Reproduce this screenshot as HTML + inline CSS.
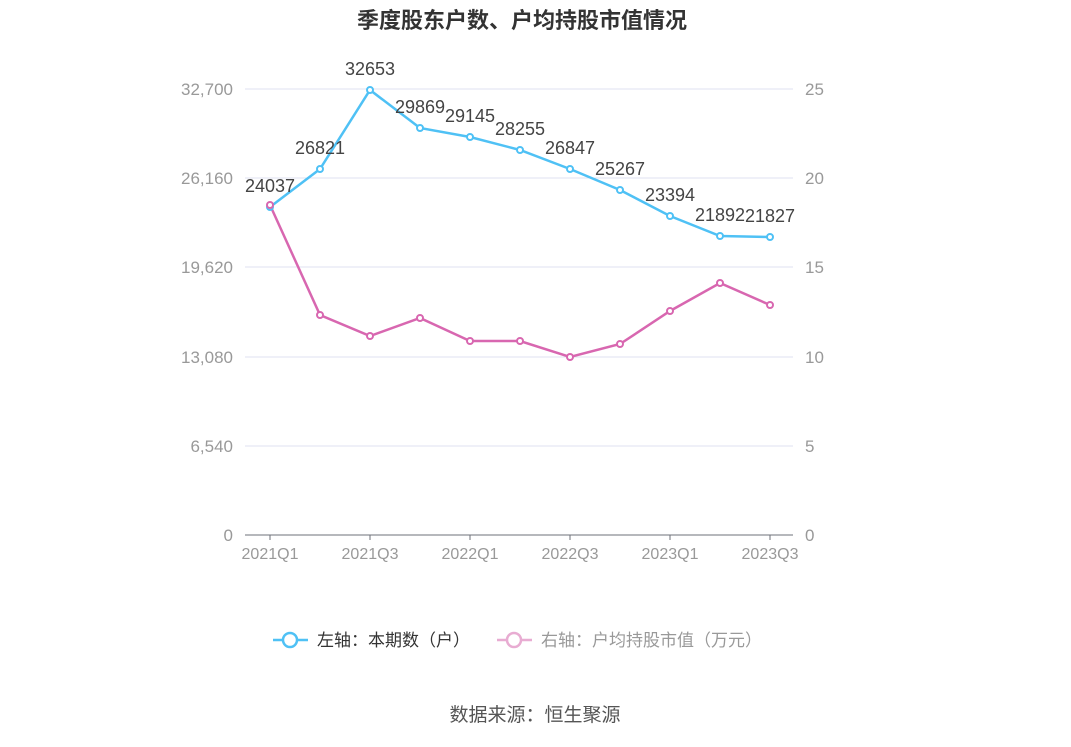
<!DOCTYPE html>
<html><head><meta charset="utf-8"><style>
body{margin:0;background:#fff;}
svg text{font-family:"Liberation Sans","Noto Sans CJK SC",sans-serif;}
</style></head><body>
<svg width="1071" height="742" xmlns="http://www.w3.org/2000/svg">
<text x="522" y="28" text-anchor="middle" font-size="22" font-weight="bold" fill="#333">季度股东户数、户均持股市值情况</text>
<g stroke="#dfe2f0" stroke-width="1">
<line x1="245" y1="89" x2="793" y2="89"/><line x1="245" y1="178" x2="793" y2="178"/>
<line x1="245" y1="267" x2="793" y2="267"/><line x1="245" y1="357" x2="793" y2="357"/>
<line x1="245" y1="446" x2="793" y2="446"/>
</g>
<line x1="245" y1="535" x2="793" y2="535" stroke="#6e7079" stroke-width="1"/>
<g stroke="#6e7079"><line x1="270" y1="535" x2="270" y2="540"/><line x1="370" y1="535" x2="370" y2="540"/><line x1="470" y1="535" x2="470" y2="540"/><line x1="570" y1="535" x2="570" y2="540"/><line x1="670" y1="535" x2="670" y2="540"/><line x1="770" y1="535" x2="770" y2="540"/></g>
<g font-size="17" fill="#999" text-anchor="end">
<text x="233" y="95">32,700</text><text x="233" y="184">26,160</text><text x="233" y="273">19,620</text><text x="233" y="363">13,080</text><text x="233" y="452">6,540</text><text x="233" y="541">0</text>
</g>
<g font-size="17" fill="#999">
<text x="805" y="95">25</text><text x="805" y="184">20</text><text x="805" y="273">15</text><text x="805" y="363">10</text><text x="805" y="452">5</text><text x="805" y="541">0</text>
</g>
<g font-size="16" fill="#999" text-anchor="middle">
<text x="270" y="559">2021Q1</text><text x="370" y="559">2021Q3</text><text x="470" y="559">2022Q1</text><text x="570" y="559">2022Q3</text><text x="670" y="559">2023Q1</text><text x="770" y="559">2023Q3</text>
</g>
<polyline fill="none" stroke="#4fc1f5" stroke-width="2.5" points="270,207 320,169 370,90 420,128 470,137 520,150 570,169 620,190 670,216 720,236 770,237"/>
<polyline fill="none" stroke="#d867b0" stroke-width="2.5" points="270,205 320,315 370,336 420,318 470,341 520,341 570,357 620,344 670,311 720,283 770,305"/>
<g fill="#fff" stroke="#4fc1f5" stroke-width="2">
<circle cx="270" cy="207" r="3"/><circle cx="320" cy="169" r="3"/><circle cx="370" cy="90" r="3"/><circle cx="420" cy="128" r="3"/><circle cx="470" cy="137" r="3"/><circle cx="520" cy="150" r="3"/><circle cx="570" cy="169" r="3"/><circle cx="620" cy="190" r="3"/><circle cx="670" cy="216" r="3"/><circle cx="720" cy="236" r="3"/><circle cx="770" cy="237" r="3"/>
</g>
<g fill="#fff" stroke="#d867b0" stroke-width="2">
<circle cx="270" cy="205" r="3"/><circle cx="320" cy="315" r="3"/><circle cx="370" cy="336" r="3"/><circle cx="420" cy="318" r="3"/><circle cx="470" cy="341" r="3"/><circle cx="520" cy="341" r="3"/><circle cx="570" cy="357" r="3"/><circle cx="620" cy="344" r="3"/><circle cx="670" cy="311" r="3"/><circle cx="720" cy="283" r="3"/><circle cx="770" cy="305" r="3"/>
</g>
<g font-size="18" fill="#444" text-anchor="middle">
<text x="270" y="192">24037</text><text x="320" y="154">26821</text><text x="370" y="75">32653</text><text x="420" y="113">29869</text><text x="470" y="122">29145</text><text x="520" y="135">28255</text><text x="570" y="154">26847</text><text x="620" y="175">25267</text><text x="670" y="201">23394</text><text x="720" y="221">21892</text><text x="770" y="222">21827</text>
</g>
<line x1="273" y1="640" x2="308" y2="640" stroke="#4fc1f5" stroke-width="2.5"/>
<circle cx="290" cy="640" r="7" fill="#fff" stroke="#4fc1f5" stroke-width="2.5"/>
<text x="317" y="646" font-size="17" fill="#333">左轴：本期数（户）</text>
<line x1="497" y1="640" x2="532" y2="640" stroke="#e8acd2" stroke-width="2.5"/>
<circle cx="514" cy="640" r="7" fill="#fff" stroke="#e8acd2" stroke-width="2.5"/>
<text x="541" y="646" font-size="17" fill="#999">右轴：户均持股市值（万元）</text>
<text x="535" y="721" text-anchor="middle" font-size="19" fill="#555">数据来源：恒生聚源</text>
</svg>
</body></html>
